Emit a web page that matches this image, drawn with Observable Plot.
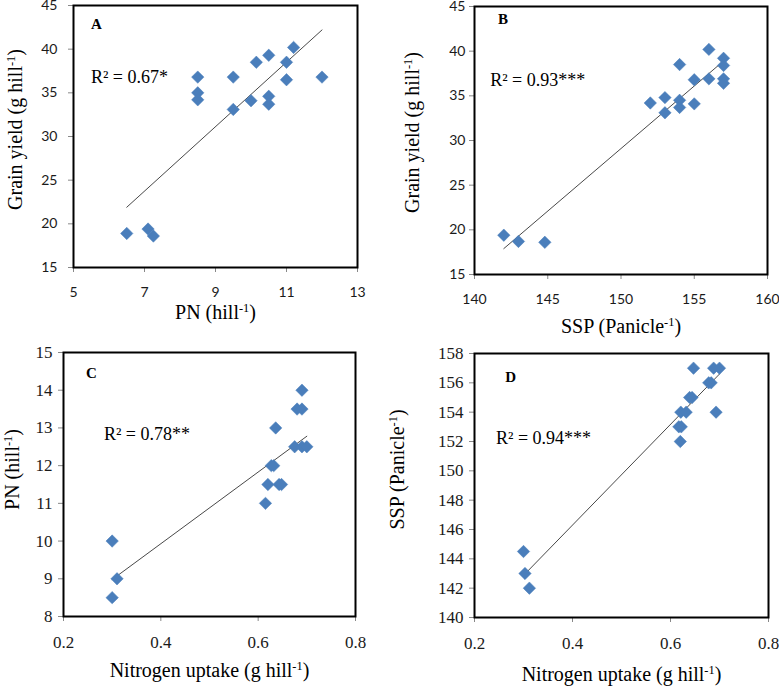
<!DOCTYPE html>
<html>
<head>
<meta charset="utf-8">
<script src="https://cdn.jsdelivr.net/npm/d3@7"></script>
<script src="https://cdn.jsdelivr.net/npm/@observablehq/plot@0.6"></script>
<style>
  html, body { margin: 0; padding: 0; background: #fff; }
  #wrap { position: relative; width: 779px; height: 687px; background: #fff; }
  .panel { position: absolute; }
  .panel svg { overflow: visible; background: transparent; }
</style>
</head>
<body>
<div id="wrap"></div>
<script>
// ---------- DATA ----------
// Panel A: PN (hill-1) vs Grain yield (g hill-1)
const aPN    = [6.5, 7.1, 7.25, 8.5, 8.5, 8.5, 9.5, 9.5, 10.0, 10.15, 10.5, 10.5, 10.5, 11.0, 11.0, 11.2, 12.0];
const aYield = [18.9, 19.4, 18.6, 36.8, 35.0, 34.2, 36.8, 33.1, 34.1, 38.5, 39.3, 34.6, 33.7, 38.5, 36.5, 40.2, 36.8];
const aTrendX = [6.5, 12.0];
const aTrendY = [21.9, 42.2];

// Panel B: SSP (Panicle-1) vs Grain yield (g hill-1)
const bSSP   = [142.0, 143.0, 144.8, 152.0, 153.0, 153.0, 154.0, 154.0, 154.0, 155.0, 155.0, 156.0, 156.0, 157.0, 157.0, 157.0, 157.0];
const bYield = [19.4, 18.7, 18.6, 34.2, 34.8, 33.1, 38.5, 34.5, 33.7, 36.8, 34.1, 40.2, 36.9, 39.2, 38.4, 36.9, 36.4];
const bTrendX = [142.0, 157.0];
const bTrendY = [17.9, 38.9];

// Panel C: Nitrogen uptake (g hill-1) vs PN (hill-1)
const cNup = [0.30, 0.30, 0.31, 0.615, 0.62, 0.627, 0.632, 0.636, 0.643, 0.648, 0.675, 0.68, 0.69, 0.69, 0.69, 0.70];
const cPN  = [10.0, 8.5, 9.0, 11.0, 11.5, 12.0, 12.0, 13.0, 11.5, 11.5, 12.5, 13.5, 13.5, 14.0, 12.5, 12.5];
const cTrendX = [0.30, 0.70];
const cTrendY = [8.98, 12.78];

// Panel D: Nitrogen uptake (g hill-1) vs SSP (Panicle-1)
const dNup = [0.30, 0.303, 0.312, 0.647, 0.688, 0.70, 0.678, 0.683, 0.639, 0.644, 0.621, 0.632, 0.693, 0.617, 0.622, 0.62];
const dSSP = [144.5, 143.0, 142.0, 157.0, 157.0, 157.0, 156.0, 156.0, 155.0, 155.0, 154.0, 154.0, 154.0, 153.0, 153.0, 152.0];
const dTrendX = [0.303, 0.70];
const dTrendY = [142.97, 156.6];

// Tick values
const ticksYield = [15, 20, 25, 30, 35, 40, 45];
const ticksPNx   = [5, 7, 9, 11, 13];
const ticksSSPx  = [140, 145, 150, 155, 160];
const ticksNup   = [0.2, 0.4, 0.6, 0.8];
const ticksPNy   = [8, 9, 10, 11, 12, 13, 14, 15];
const ticksSSPy  = [140, 142, 144, 146, 148, 150, 152, 154, 156, 158];

// Labels
const panelLetters = ["A", "B", "C", "D"];
const r2Labels = ["R\u00B2 = 0.67*", "R\u00B2 = 0.93***", "R\u00B2 = 0.78**", "R\u00B2 = 0.94***"];
const xLabels = ["PN (hill^-1^)", "SSP (Panicle^-1^)", "Nitrogen uptake (g hill^-1^)", "Nitrogen uptake (g hill^-1^)"];
const yLabels = ["Grain yield (g hill^-1^)", "Grain yield (g hill^-1^)", "PN (hill^-1^)", "SSP (Panicle^-1^)"];
// annotation anchor positions (data coords)
const letterPos = [[5.49, 42.9], [141.6, 43.6], [0.246, 14.45], [0.263, 156.4]];
const r2Pos = [[5.49, 36.75], [141.07, 36.7], [0.283, 12.83], [0.244, 152.2]];

// ---------- STYLE ----------
const BLUE = "#4a7ebb";
const SERIF = "'Liberation Serif', 'Times New Roman', serif";
const SANS = "Lato, 'Liberation Sans', sans-serif";

const panels = [
  {left: 0,   top: 0,   width: 390, height: 330, mL: 73, mR: 33, mT: 5,  mB: 63,
   xs: aPN, ys: aYield, tx: aTrendX, ty: aTrendY, xd: [5, 13], yd: [15, 45], xt: ticksPNx, yt: ticksYield,
   tickFont: SANS, tickSize: 14, yPad: 11, xPad: 15, xLabDy: 45, yLabDx: -58, yLabDy: -7},
  {left: 390, top: 0,   width: 389, height: 330, mL: 84, mR: 12, mT: 6,  mB: 56,
   xs: bSSP, ys: bYield, tx: bTrendX, ty: bTrendY, xd: [140, 160], yd: [15, 45], xt: ticksSSPx, yt: ticksYield,
   tickFont: SANS, tickSize: 14, yPad: 4, xPad: 15, xLabDy: 52, yLabDx: -62, yLabDy: -8},
  {left: 0,   top: 330, width: 390, height: 357, mL: 63, mR: 35, mT: 22, mB: 71,
   xs: cNup, ys: cPN, tx: cTrendX, ty: cTrendY, xd: [0.2, 0.8], yd: [8, 15], xt: ticksNup, yt: ticksPNy,
   tickFont: SERIF, tickSize: 17, yPad: 6, xPad: 14, xLabDy: 54, yLabDx: -51, yLabDy: -15},
  {left: 390, top: 330, width: 389, height: 357, mL: 84, mR: 11, mT: 23, mB: 70,
   xs: dNup, ys: dSSP, tx: dTrendX, ty: dTrendY, xd: [0.2, 0.8], yd: [140, 158], xt: ticksNup, yt: ticksSSPy,
   tickFont: SERIF, tickSize: 17, yPad: 6, xPad: 14, xLabDy: 57, yLabDx: -77, yLabDy: -16}
];

function applySuperscripts(svg) {
  svg.querySelectorAll("text").forEach(t => {
    const s = t.textContent;
    if (!s.includes("^")) return;
    const parts = s.split("^");
    while (t.firstChild) t.removeChild(t.firstChild);
    parts.forEach((p, i) => {
      if (!p) return;
      const ts = document.createElementNS("http://www.w3.org/2000/svg", "tspan");
      ts.textContent = p;
      if (i % 2 === 1) {
        ts.setAttribute("baseline-shift", "super");
        ts.setAttribute("font-size", "62%");
      }
      t.appendChild(ts);
    });
  });
}

const fmt = d => String(d);
const wrap = document.getElementById("wrap");
panels.forEach((p, k) => {
  const pts = p.xs.map((x, i) => ({x, y: p.ys[i]}));
  const trend = p.tx.map((x, i) => ({x, y: p.ty[i]}));
  const chart = Plot.plot({
    width: p.width,
    height: p.height,
    marginLeft: p.mL, marginRight: p.mR, marginTop: p.mT, marginBottom: p.mB,
    style: {background: "transparent", color: "#1a1a1a"},
    x: {domain: p.xd, ticks: p.xt},
    y: {domain: p.yd, ticks: p.yt},
    marks: [
      Plot.axisX({ticks: p.xt, tickFormat: fmt, tickSize: 5, tickPadding: p.xPad, label: null, stroke: "#888",
                  fontSize: p.tickSize, fontFamily: p.tickFont, fill: "#1a1a1a"}),
      Plot.axisY({ticks: p.yt, tickFormat: fmt, tickSize: 5, tickPadding: p.yPad, label: null, stroke: "#888",
                  fontSize: p.tickSize, fontFamily: p.tickFont, fill: "#1a1a1a"}),
      Plot.frame({stroke: "black", strokeWidth: 2}),
      Plot.line(trend, {x: "x", y: "y", stroke: "#333", strokeWidth: 0.9}),
      Plot.dot(pts, {x: "x", y: "y", symbol: "diamond2", r: 5.6, fill: BLUE, stroke: BLUE, strokeWidth: 0.5}),
      Plot.text([panelLetters[k]], {x: () => letterPos[k][0], y: () => letterPos[k][1], text: d => d,
                textAnchor: "start", fontSize: 15, fontWeight: "bold", fontFamily: SERIF, fill: "black"}),
      Plot.text([r2Labels[k]], {x: () => r2Pos[k][0], y: () => r2Pos[k][1], text: d => d,
                textAnchor: "start", fontSize: 18, fontFamily: SERIF, fill: "black"}),
      Plot.text([xLabels[k]], {frameAnchor: "bottom", dy: p.xLabDy, text: d => d,
                textAnchor: "middle", lineAnchor: "middle",
                fontSize: 20, fontFamily: SERIF, fill: "black"}),
      Plot.text([yLabels[k]], {frameAnchor: "left", dx: p.yLabDx, dy: p.yLabDy, rotate: -90, text: d => d,
                textAnchor: "middle", lineAnchor: "middle",
                fontSize: 20, fontFamily: SERIF, fill: "black"})
    ]
  });
  applySuperscripts(chart);
  const div = document.createElement("div");
  div.className = "panel";
  div.style.left = p.left + "px";
  div.style.top = p.top + "px";
  div.appendChild(chart);
  wrap.appendChild(div);
});
</script>
</body>
</html>
